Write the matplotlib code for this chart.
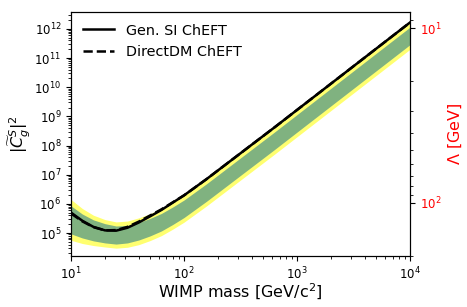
import numpy as np
import matplotlib
matplotlib.use("Agg")
import matplotlib.pyplot as plt
from matplotlib.ticker import LogLocator, NullFormatter

# WIMP mass grid [GeV/c^2]
mass = [10.0, 12.6, 15.8, 20.0, 25.1, 31.6, 39.8, 50.1, 63.1, 79.4, 100.0,
        158.5, 251.2, 398.1, 631.0, 1000.0, 1778.3, 3162.3, 5623.4, 10000.0]

# log10 |C_g^S|^2
log_gen_si = [5.70, 5.42, 5.21, 5.09, 5.08, 5.18, 5.36, 5.57, 5.79, 6.04, 6.29,
              6.85, 7.44, 8.03, 8.62, 9.22, 9.97, 10.72, 11.47, 12.22]
log_directdm = [5.67, 5.40, 5.20, 5.09, 5.10, 5.21, 5.39, 5.60, 5.81, 6.05, 6.29,
                6.85, 7.44, 8.03, 8.62, 9.22, 9.97, 10.72, 11.47, 12.22]

# sensitivity bands (log10)
log_y_hi = [6.15, 5.84, 5.61, 5.46, 5.38, 5.41, 5.52, 5.66, 5.83, 6.05, 6.29,
            6.85, 7.44, 8.03, 8.62, 9.22, 9.97, 10.72, 11.47, 12.22]
log_g_hi = [5.93, 5.65, 5.45, 5.32, 5.24, 5.26, 5.36, 5.50, 5.67, 5.89, 6.13,
            6.69, 7.28, 7.87, 8.46, 9.06, 9.81, 10.56, 11.31, 12.06]
log_g_lo = [4.97, 4.83, 4.73, 4.66, 4.62, 4.66, 4.76, 4.90, 5.07, 5.29, 5.53,
            6.09, 6.68, 7.27, 7.86, 8.46, 9.21, 9.96, 10.71, 11.46]
log_y_lo = [4.75, 4.64, 4.57, 4.52, 4.48, 4.51, 4.60, 4.74, 4.91, 5.13, 5.37,
            5.93, 6.52, 7.11, 7.70, 8.30, 9.05, 9.80, 10.55, 11.30]

m = np.array(mass)
p = lambda v: 10 ** np.array(v)

fig = plt.figure(figsize=(4.67, 3.07), dpi=100)
ax = fig.add_axes([0.152, 0.166, 0.726, 0.795])

ax.fill_between(m, p(log_y_lo), p(log_y_hi), color="#ffff70", lw=0)
ax.fill_between(m, p(log_g_lo), p(log_g_hi), color="#80b280", lw=0)
ax.plot(m, p(log_gen_si), color="black", lw=1.8, label="Gen. SI ChEFT")
ax.plot(m, p(log_directdm), color="black", lw=1.8, ls="--", label="DirectDM ChEFT")

ax.set_xscale("log")
ax.set_yscale("log")
ax.set_xlim(10, 1e4)
c_lo, c_hi = 10 ** 4.21, 10 ** 12.58
ax.set_ylim(c_lo, c_hi)
ax.yaxis.set_major_locator(LogLocator(base=10, numticks=20))
ax.yaxis.set_minor_locator(LogLocator(base=10, subs=np.arange(2, 10), numticks=100))
ax.yaxis.set_minor_formatter(NullFormatter())
ax.tick_params(labelsize=8.5)

ax.set_xlabel(r"WIMP mass [GeV/c$^2$]", fontsize=11.5, labelpad=0)
ax.set_ylabel(r"$|\widetilde{C}^S_g|^2$", fontsize=11.5, labelpad=1)

ax.legend(loc="upper left", frameon=False, fontsize=10.4, handlelength=2.2,
          borderaxespad=0.4)

# right axis: Lambda = 10 GeV * (C / 10^12.03)^(-1/6), decreasing with C
def c2lam(c):
    return 10 * (c / 10 ** 12.03) ** (-1 / 6)

ax2 = ax.twinx()
ax2.set_yscale("log")
ax2.set_ylim(c2lam(c_lo), c2lam(c_hi))
ax2.yaxis.set_major_locator(LogLocator(base=10, numticks=20))
ax2.yaxis.set_minor_locator(LogLocator(base=10, subs=np.arange(2, 10), numticks=100))
ax2.yaxis.set_minor_formatter(NullFormatter())
ax2.tick_params(axis="y", labelsize=8.5, labelcolor="red")
ax2.set_ylabel(r"$\Lambda$ [GeV]", color="red", fontsize=11.5)

fig.savefig("out.png", dpi=100)
